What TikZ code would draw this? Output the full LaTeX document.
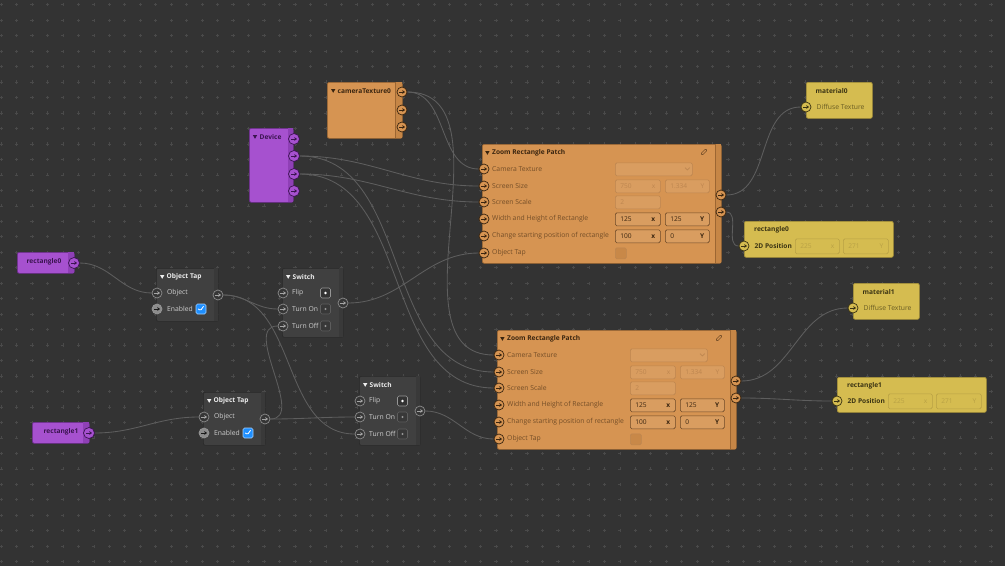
\documentclass[tikz,border=0pt]{standalone}
\usepackage{fontspec}
\setmainfont{Open Sans}
\usetikzlibrary{arrows.meta}

\definecolor{canvas}{HTML}{333333}
\definecolor{gridmark}{HTML}{4A4A4A}
\definecolor{wirecol}{HTML}{5E5E5E}
\definecolor{darkfill}{HTML}{404040}
\definecolor{darkline}{HTML}{2A2A2A}
\definecolor{darkstrip}{HTML}{393939}
\definecolor{darktitle}{HTML}{EEEEEE}
\definecolor{darktext}{HTML}{CFCFCF}
\definecolor{orangefill}{HTML}{D69452}
\definecolor{orangestrip}{HTML}{C68646}
\definecolor{orangeline}{HTML}{9C6632}
\definecolor{orangetitle}{HTML}{3A2510}
\definecolor{orangetext}{HTML}{744E28}
\definecolor{orangefaint}{HTML}{BD8650}
\definecolor{orangeactive}{HTML}{6E4A28}
\definecolor{yellowfill}{HTML}{D5BC50}
\definecolor{yellowline}{HTML}{A89339}
\definecolor{yellowtitle}{HTML}{3A3313}
\definecolor{yellowtext}{HTML}{6A5D24}
\definecolor{yellowfaint}{HTML}{B8A145}
\definecolor{purplefill}{HTML}{A651CF}
\definecolor{purplestrip}{HTML}{8F40B6}
\definecolor{purpleline}{HTML}{6A2A8A}
\definecolor{purpletitle}{HTML}{3B1450}
\definecolor{tickblue}{HTML}{1E8FFF}

\pgfdeclarelayer{grid}
\pgfdeclarelayer{wires}
\pgfsetlayers{grid,wires,main}

\begin{document}
\begin{tikzpicture}[
    x=1pt, y=-1pt,
    box/.style={anchor=north west, inner sep=0, rounded corners=2, line width=0.7},
    port/.style n args={3}{circle, inner sep=0, minimum size=10, line width=0.7, fill=#1, draw=#2,
        path picture={\draw[#3, line width=0.8, -{Stealth[length=2.8pt, width=3.8pt]}]
            ([xshift=-2.9pt]path picture bounding box.center) -- ([xshift=3pt]path picture bounding box.center);}},
    oport/.style={port={orangefill}{orangetitle}{orangetitle}},
    yport/.style={port={yellowfill}{yellowtitle}{yellowtitle}},
    pport/.style={port={purplefill}{purpletitle}{purpletitle}, minimum size=11},
    gport/.style={port={darkfill!85!black}{darkfill!60!white}{darktext!80!black}},
    gportoff/.style={port={darkfill!60!white}{darkfill!55!white}{darkfill!40!black}},
    txt/.style={anchor=west, inner sep=0, font=\fontsize{6.8}{8}\selectfont},
    otitle/.style={txt, font=\fontsize{6.6}{8}\selectfont\bfseries, text=orangetitle},
    olabel/.style={txt, text=orangetext},
    ytitle/.style={txt, font=\fontsize{6.6}{8}\selectfont\bfseries, text=yellowtitle},
    ylabel/.style={txt, text=yellowtext},
    ptitle/.style={txt, font=\fontsize{6.6}{8}\selectfont\bfseries, text=purpletitle},
    dtitle/.style={txt, font=\fontsize{6.6}{8}\selectfont\bfseries, text=darktitle},
    dlabel/.style={txt, text=darktext},
    field/.style={anchor=north west, inner xsep=5, inner ysep=0, minimum height=13, rounded corners=1.5,
        line width=0.6, align=left, font=\fontsize{6.6}{8}\selectfont},
    ofield/.style={field, fill=orangefill!92!white, draw=orangefaint, text=orangefaint},
    oactive/.style={field, fill=orangefill!92!white, draw=orangeactive, text=orangetitle},
    yfield/.style={field, minimum height=15, fill=yellowfill, draw=yellowfaint, text=yellowfaint},
    checkbox/.style={rectangle, minimum size=10, inner sep=0, rounded corners=1.5, fill=tickblue,
        draw=tickblue!40!white, line width=0.6,
        path picture={\draw[white, line width=0.8]
            ([shift={(-2.6pt,0.2pt)}]path picture bounding box.center) --
            ([shift={(-0.8pt,-2pt)}]path picture bounding box.center) --
            ([shift={(2.6pt,2.8pt)}]path picture bounding box.center);}},
    toggleon/.style={rectangle, minimum size=10, inner sep=0, rounded corners=1.5, fill=black!80,
        draw=darkfill!55!white, line width=0.6,
        path picture={\fill[white] (path picture bounding box.center) circle (1.4pt);}},
    toggleoff/.style={rectangle, minimum size=10, inner sep=0, rounded corners=1.5, fill=darkfill!88!black,
        draw=darkfill!85!white, line width=0.6,
        path picture={\fill[darkfill!55!white] (path picture bounding box.center) circle (1.2pt);}},
    wire/.style={draw=wirecol, line width=0.85}
]
    \useasboundingbox (0,0) rectangle (1005,566);

    % canvas with the dotted grid
    \begin{pgfonlayer}{grid}
    \fill[canvas] (0,0) rectangle (1005,566);
    \draw[gridmark, line width=0.6] \foreach \i in {0,...,64} {\foreach \j in {0,...,36} {
        ({1+15.47*\i-1.6},{4.7+15.47*\j}) -- ++(3.2,0)
        ({1+15.47*\i},{4.7+15.47*\j-1.6}) -- ++(0,3.2)}};
    \end{pgfonlayer}

    % sources
    \node[box, fill=purplefill, draw=purpleline, minimum width=57, minimum height=21] (rect0) at (17,252) {};
    \fill[purplestrip] (68,252.4) rectangle (73.6,272.6);
    \node[ptitle, anchor=center] (rect0-title) at (44,262) {rectangle0};
    \node[pport] (rect0-out) at (74,263) {};

    \node[box, fill=purplefill, draw=purpleline, minimum width=57, minimum height=21] (rect1) at (32,422) {};
    \fill[purplestrip] (83,422.4) rectangle (88.6,442.6);
    \node[ptitle, anchor=center] (rect1-title) at (61,432) {rectangle1};
    \node[pport] (rect1-out) at (89,433) {};

    \node[box, fill=purplefill, draw=purpleline, minimum width=44, minimum height=74] (device) at (249,128) {};
    \fill[purplestrip] (287.5,128.4) rectangle (292.6,201.6);
    \fill[purpletitle] (252.8,135) -- (257.2,135) -- (255,138.8) -- cycle;
    \node[ptitle] (device-title) at (259.5,137) {Device};
    \node[pport] (device-p1) at (294,139) {};
    \node[pport] (device-p2) at (294,156) {};
    \node[pport] (device-p3) at (294,174) {};
    \node[pport] (device-p4) at (294,191) {};

    \node[box, fill=orangefill, draw=orangeline, minimum width=75, minimum height=56] (cam) at (327,82) {};
    \fill[orangestrip] (395,82.4) rectangle (401.6,137.6);
    \draw[orangeline, line width=0.5] (395,82.4) -- (395,137.6);
    \fill[orangetitle] (331,89) -- (335.4,89) -- (333.2,92.8) -- cycle;
    \node[otitle] (cam-title) at (337.5,91) {cameraTexture0};
    \node[oport] (cam-p1) at (402,92) {};
    \node[oport] (cam-p2) at (402,110) {};
    \node[oport] (cam-p3) at (402,127) {};

    % object taps
    \foreach \n/\dx/\dy in {1/0/0, 2/47/124} {
    \begin{scope}[shift={(\dx,\dy)}]
        \node[box, fill=darkfill, draw=darkline, minimum width=62, minimum height=53] (tap\n) at (156,268) {};
        \fill[darkstrip] (213.5,268.4) rectangle (217.6,320.6);
        \fill[darktitle] (160,275) -- (164.4,275) -- (162.2,278.8) -- cycle;
        \node[dtitle] (tap\n-title) at (166.5,277) {Object Tap};
        \node[dlabel] (tap\n-l1) at (167,293) {Object};
        \node[dlabel] (tap\n-l2) at (167,309) {Enabled};
        \node[checkbox] (tap\n-chk) at (201,309) {};
        \node[gport] (tap\n-obj) at (157,293) {};
        \node[gportoff] (tap\n-en) at (157,309) {};
        \node[gport] (tap\n-out) at (218,295) {};
    \end{scope}
    }

    % switches
    \foreach \n/\dx/\dy in {1/0/0, 2/77/108} {
    \begin{scope}[shift={(\dx,\dy)}]
        \node[box, fill=darkfill, draw=darkline, minimum width=61, minimum height=69] (switch\n) at (282,268) {};
        \fill[darkstrip] (338.5,268.4) rectangle (342.6,336.6);
        \fill[darktitle] (286,275) -- (290.4,275) -- (288.2,278.8) -- cycle;
        \node[dtitle] (switch\n-title) at (292.5,277) {Switch};
        \node[dlabel] (switch\n-l1) at (292,293) {Flip};
        \node[dlabel] (switch\n-l2) at (292,309) {Turn On};
        \node[dlabel] (switch\n-l3) at (292,326) {Turn Off};
        \node[toggleon] (switch\n-t1) at (325.5,293) {};
        \node[toggleoff] (switch\n-t2) at (325.5,309) {};
        \node[toggleoff] (switch\n-t3) at (325.5,326) {};
        \node[gport] (switch\n-flip) at (283,293) {};
        \node[gport] (switch\n-on) at (283,309) {};
        \node[gport] (switch\n-off) at (283,326) {};
        \node[gport] (switch\n-out) at (343,303) {};
    \end{scope}
    }

    % zoom rectangle patches
    \foreach \n/\dx/\dy in {A/0/0, B/15/186} {
    \begin{scope}[shift={(\dx,\dy)}]
        \node[box, fill=orangefill, draw=orangeline, minimum width=239, minimum height=119] (patch\n) at (482,144) {};
        \fill[orangestrip] (715,144.4) rectangle (720.6,262.6);
        \draw[orangeline, line width=0.5] (715,144.4) -- (715,262.6);
        \fill[orangetitle] (485.2,151) -- (489.6,151) -- (487.4,154.8) -- cycle;
        \node[otitle] (patch\n-title) at (492,153) {Zoom Rectangle Patch};
        \draw[orangetitle!60!orangefill, line width=0.6, rounded corners=1, rotate around={-45:(704,152)}]
            (702.9,148.6) rectangle (705.1,155.4);
        \node[olabel] (patch\n-l1) at (492,169) {Camera Texture};
        \node[olabel] (patch\n-l2) at (492,186) {Screen Size};
        \node[olabel] (patch\n-l3) at (492,202) {Screen Scale};
        \node[olabel] (patch\n-l4) at (492,219) {Width and Height of Rectangle};
        \node[olabel] (patch\n-l5) at (492,236) {Change starting position of rectangle};
        \node[olabel] (patch\n-l6) at (492,253) {Object Tap};
        \node[ofield, text width=67] (patch\n-f1) at (615,162.5) {};
        \draw[orangefaint, line width=0.6] (685,167.6) -- (687.4,170) -- (689.8,167.6);
        \node[ofield, text width=35] (patch\n-f2) at (615,179.5) {750\hfill x};
        \node[ofield, text width=34] (patch\n-f3) at (665,179.5) {1.334\hfill Y};
        \node[ofield, text width=35] (patch\n-f4) at (615,195.5) {2};
        \node[oactive, text width=35] (patch\n-f5) at (615,212.5) {125\hfill\textbf{x}};
        \node[oactive, text width=34] (patch\n-f6) at (665,212.5) {125\hfill\textbf{Y}};
        \node[oactive, text width=35] (patch\n-f7) at (615,229.5) {100\hfill\textbf{x}};
        \node[oactive, text width=34] (patch\n-f8) at (665,229.5) {0\hfill\textbf{Y}};
        \node[box, fill=orangestrip!85!orangefill, draw=orangefaint, line width=0.6, rounded corners=1.5,
            minimum width=11, minimum height=11] (patch\n-chk) at (615,247.5) {};
        \node[oport] (patch\n-cam) at (484,169) {};
        \node[oport] (patch\n-size) at (484,186) {};
        \node[oport] (patch\n-scale) at (484,202) {};
        \node[oport] (patch\n-wh) at (484,219) {};
        \node[oport] (patch\n-start) at (484,236) {};
        \node[oport] (patch\n-tap) at (484,253) {};
        \node[oport] (patch\n-out1) at (721,195) {};
        \node[oport] (patch\n-out2) at (721,212) {};
    \end{scope}
    }

    % targets
    \node[box, fill=yellowfill, draw=yellowline, minimum width=66, minimum height=36] (mat0) at (806,82) {};
    \node[ytitle] (mat0-title) at (815.5,91) {material0};
    \node[ylabel] (mat0-l1) at (816.5,107) {Diffuse Texture};
    \node[yport] (mat0-in) at (806,107) {};

    \node[box, fill=yellowfill, draw=yellowline, minimum width=66, minimum height=36] (mat1) at (853,283) {};
    \node[ytitle] (mat1-title) at (862.5,292) {material1};
    \node[ylabel] (mat1-l1) at (863.5,308) {Diffuse Texture};
    \node[yport] (mat1-in) at (853,308) {};

    \node[box, fill=yellowfill, draw=yellowline, minimum width=149, minimum height=36] (pos0) at (744,221) {};
    \node[ytitle] (pos0-title) at (754,230) {rectangle0};
    \node[ytitle] (pos0-l1) at (754.5,246) {2D Position};
    \node[yfield, text width=34] (pos0-fx) at (795,238.5) {225\hfill x};
    \node[yfield, text width=35] (pos0-fy) at (843,238.5) {271\hfill Y};
    \node[yport] (pos0-in) at (744,246) {};

    \node[box, fill=yellowfill, draw=yellowline, minimum width=149, minimum height=35] (pos1) at (837,377) {};
    \node[ytitle] (pos1-title) at (847,385.5) {rectangle1};
    \node[ytitle] (pos1-l1) at (847.5,401) {2D Position};
    \node[yfield, text width=34] (pos1-fx) at (888,393.5) {225\hfill x};
    \node[yfield, text width=35] (pos1-fy) at (936,393.5) {271\hfill Y};
    \node[yport] (pos1-in) at (837,401) {};

    % connections
    \begin{pgfonlayer}{wires}
    \draw[wire] (rect0-out) to[out=0, in=180] (tap1-obj);
    \draw[wire] (rect1-out) to[out=0, in=180] (tap2-obj);
    \draw[wire] (tap1-out) to[out=0, in=180] (switch1-on);
    \draw[wire] (tap1-out) to[out=0, in=180] (switch2-off);
    \draw[wire] (tap2-out) to[out=0, in=180] (switch2-on);
    \draw[wire] (tap2-out) to[out=0, in=180] (switch1-off);
    \draw[wire] (switch1-out) to[out=0, in=180] (patchA-tap);
    \draw[wire] (switch2-out) to[out=0, in=180] (patchB-tap);
    \draw[wire] (cam-p1) to[out=0, in=180] (patchA-cam);
    \draw[wire] (cam-p1) to[out=0, in=180] (patchB-cam);
    \draw[wire] (device-p2) to[out=0, in=180] (patchA-size);
    \draw[wire] (device-p2) to[out=0, in=180] (patchB-size);
    \draw[wire] (device-p3) to[out=0, in=180] (patchA-scale);
    \draw[wire] (device-p3) to[out=0, in=180] (patchB-scale);
    \draw[wire] (patchA-out1) to[out=0, in=180] (mat0-in);
    \draw[wire] (patchA-out2) to[out=0, in=180] (pos0-in);
    \draw[wire] (patchB-out1) to[out=0, in=180] (mat1-in);
    \draw[wire] (patchB-out2) to[out=0, in=180] (pos1-in);
    \end{pgfonlayer}
\end{tikzpicture}
\end{document}
